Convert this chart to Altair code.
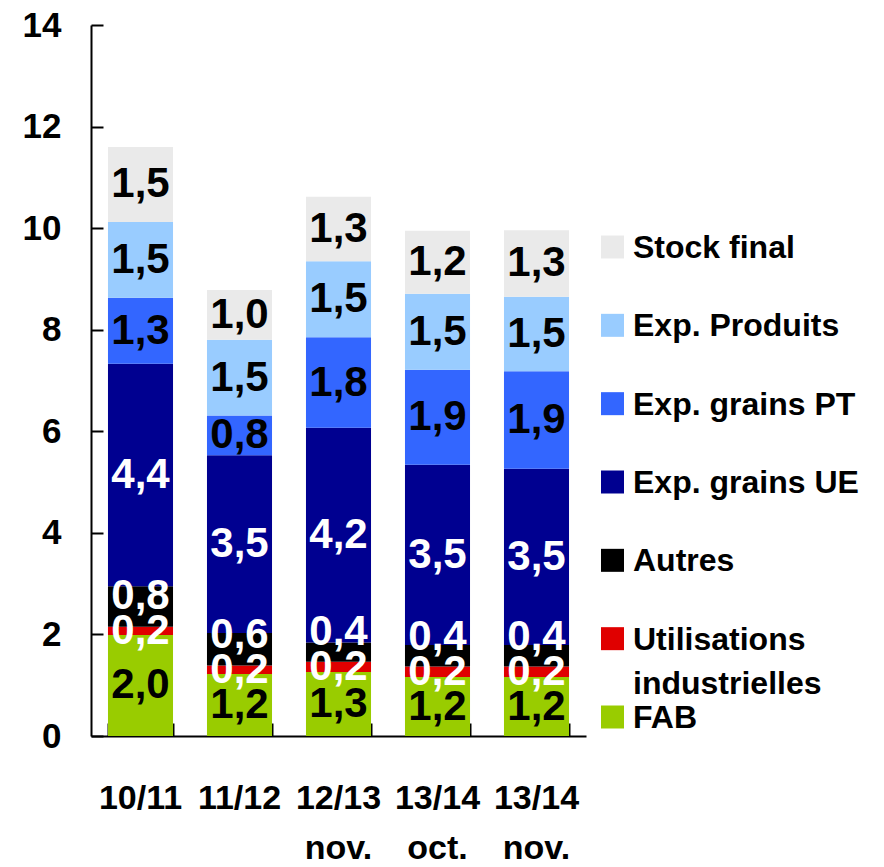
import altair as alt
import pandas as pd

categories = ["10/11", "11/12", "12/13 nov.", "13/14 oct.", "13/14 nov."]
series = ["FAB", "Utilisations industrielles", "Autres", "Exp. grains UE",
          "Exp. grains PT", "Exp. Produits", "Stock final"]
values = {
    "FAB":                        [1.99, 1.22, 1.26, 1.16, 1.16],
    "Utilisations industrielles": [0.16, 0.17, 0.20, 0.21, 0.21],
    "Autres":                     [0.80, 0.64, 0.38, 0.42, 0.42],
    "Exp. grains UE":             [4.38, 3.50, 4.23, 3.55, 3.47],
    "Exp. grains PT":             [1.30, 0.78, 1.78, 1.87, 1.92],
    "Exp. Produits":              [1.49, 1.49, 1.50, 1.50, 1.47],
    "Stock final":                [1.48, 0.98, 1.27, 1.24, 1.31],
}
colors = {
    "Stock final": "#EAEAEA",
    "Exp. Produits": "#99CCFF",
    "Exp. grains PT": "#3366FF",
    "Exp. grains UE": "#000090",
    "Autres": "#000000",
    "Utilisations industrielles": "#E00000",
    "FAB": "#99CC00",
}
legend_labels = {
    "Stock final": "Stock final",
    "Exp. Produits": "Exp. Produits",
    "Exp. grains PT": "Exp. grains PT",
    "Exp. grains UE": "Exp. grains UE",
    "Autres": "Autres",
    "Utilisations industrielles": "Utilisations\nindustrielles",
    "FAB": "FAB",
}
white_labels = {"Exp. grains UE", "Autres", "Utilisations industrielles"}
y_ticks = [0, 2, 4, 6, 8, 10, 12, 14]

rows = []
for ci, cat in enumerate(categories):
    base = 0.0
    util_mid = None
    for si, s in enumerate(series):
        v = values[s][ci]
        mid = base + v / 2
        ly = mid
        if s == "Utilisations industrielles":
            util_mid = mid
        if s == "Autres":
            ly = max(mid, util_mid + 0.69)
        rows.append({
            "cat": cat, "series": s, "idx": si, "v": v,
            "y0": base, "y1": base + v, "ly": ly,
            "lab": f"{v:.1f}".replace(".", ","),
            "tcol": "white" if s in white_labels else "black",
        })
        base += v
df = pd.DataFrame(rows)

legend_order = list(reversed(series))
leg_df = pd.DataFrame({"series": legend_order,
                       "text": [legend_labels[s] for s in legend_order]})

FONT = "Liberation Sans"
W, H = 495, 711

xscale = alt.Scale(domain=categories, paddingInner=0.343, paddingOuter=0.1715)
yscale = alt.Scale(domain=[0, 14], nice=False, zero=True)
cscale = alt.Scale(domain=legend_order, range=[colors[s] for s in legend_order])

bars = alt.Chart(df).mark_bar(stroke=None).encode(
    x=alt.X("cat:N", scale=xscale, sort=categories, title=None,
            axis=alt.Axis(orient="bottom", labelAngle=0, ticks=False, tickSize=0,
                          domain=True, domainColor="black", domainWidth=2,
                          labelFont=FONT, labelFontSize=34, labelFontWeight="bold",
                          labelColor="black", labelPadding=45, labelLineHeight=50,
                          labelExpr="split(datum.label, ' ')", grid=False)),
    y=alt.Y("y1:Q", scale=yscale, title=None,
            axis=alt.Axis(orient="left", values=y_ticks, ticks=False, tickSize=0,
                          domain=True, domainColor="black", domainWidth=2,
                          labelFont=FONT, labelFontSize=35, labelFontWeight="bold",
                          labelColor="black", labelPadding=30, grid=False)),
    y2="y0:Q",
    color=alt.Color("series:N", scale=cscale, legend=None),
    order=alt.Order("idx:Q"),
)

labels = alt.Chart(df).mark_text(font=FONT, fontSize=42, fontWeight="bold",
                                 baseline="middle", align="center").encode(
    x=alt.X("cat:N", scale=xscale, sort=categories, title=None,
            axis=alt.Axis(orient="top", offset=-H, labels=False, ticks=True,
                          tickSize=13, tickWidth=2, tickColor="black",
                          tickBand="extent", domain=False, grid=False)),
    y=alt.Y("ly:Q", scale=yscale, title=None,
            axis=alt.Axis(orient="right", offset=-W, labels=False, ticks=True,
                          values=y_ticks, tickSize=12, tickWidth=2,
                          tickColor="black", domain=False, grid=False)),
    text="lab:N",
    color=alt.Color("tcol:N", scale=None, legend=None),
)

leg_y = alt.Y("series:N", sort=legend_order, axis=None, title=None,
              scale=alt.Scale(type="point", domain=legend_order,
                              range=[222, 692], padding=0))

leg_sq = alt.Chart(leg_df).mark_square(size=529, opacity=1, strokeWidth=0).encode(
    x=alt.value(521.5),
    y=leg_y,
    color=alt.Color("series:N", scale=cscale, legend=None),
)

leg_txt = alt.Chart(leg_df).mark_text(font=FONT, fontSize=32, fontWeight="bold",
                                      align="left", baseline="top", dy=-14,
                                      lineBreak="\n", lineHeight=44,
                                      color="black").encode(
    x=alt.value(542),
    y=leg_y,
    text="text:N",
)

chart = alt.layer(bars, labels, leg_sq, leg_txt).resolve_axis(
    x="independent", y="independent"
).resolve_scale(
    y="independent"
).properties(
    width=W, height=H,
    autosize=alt.AutoSizeParams(type="none"),
    padding={"left": 83, "top": 17, "right": 290, "bottom": 130},
    background="white",
).configure_view(stroke=None)

chart.save("out.html", embed_options={"renderer": "svg", "actions": False})
